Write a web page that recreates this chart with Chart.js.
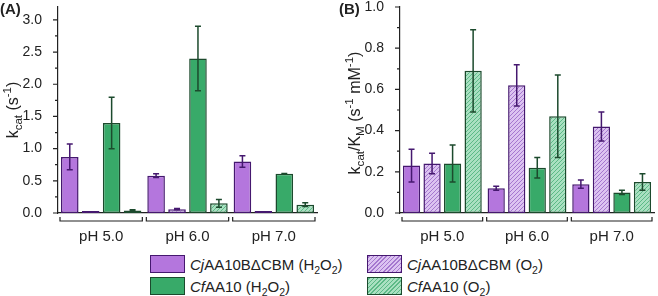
<!DOCTYPE html>
<html>
<head>
<meta charset="utf-8">
<script src="https://cdn.jsdelivr.net/npm/chart.js@4.4.1/dist/chart.umd.min.js"></script>
<style>
  body { margin: 0; width: 658px; height: 296px; background: #fff; overflow: hidden; position: relative;
         font-family: "Liberation Sans", Arial, sans-serif; color: #222; }
  .panel { position: absolute; top: 0; height: 250px; }
  #wrapA { left: 0; width: 329px; }
  #wrapB { left: 330px; width: 328px; }
  .tag { position: absolute; top: 0; font-weight: bold; font-size: 15px; }
  .lg { position: absolute; font-size: 15px; display: flex; align-items: center; white-space: nowrap; }
  .sw { width: 35px; height: 18px; border: 1.5px solid; box-sizing: border-box; margin-right: 5px; }
  sub, sup { font-size: 70%; line-height: 0; }
</style>
</head>
<body>
<div class="panel" id="wrapA"><canvas id="chartA" width="329" height="250"></canvas></div>
<div class="panel" id="wrapB"><canvas id="chartB" width="328" height="250"></canvas></div>
<div class="tag" style="left:0">(A)</div>
<div class="tag" style="left:339px">(B)</div>
<div id="legend"></div>
<script>
// categories
const phLabels = ['pH 5.0', 'pH 6.0', 'pH 7.0'];
const seriesNames = [
  '<i>Cj</i>AA10B&Delta;CBM (H<sub>2</sub>O<sub>2</sub>)',
  '<i>Cj</i>AA10B&Delta;CBM (O<sub>2</sub>)',
  '<i>Cf</i>AA10 (H<sub>2</sub>O<sub>2</sub>)',
  '<i>Cf</i>AA10 (O<sub>2</sub>)'
];

// panel A: kcat (s-1)
const kcatCjH2O2 = [0.87, 0.58, 0.80];
const kcatCjO2   = [0.03, 0.06, 0.03];
const kcatCfH2O2 = [1.40, 2.40, 0.61];
const kcatCfO2   = [0.04, 0.15, 0.13];
const kcatErrCjH2O2 = [0.20, 0.03, 0.09];
const kcatErrCjO2   = [0, 0.008, 0];
const kcatErrCfH2O2 = [0.40, 0.50, 0.004];
const kcatErrCfO2   = [0.01, 0.06, 0.03];
const kcatTicks = [0, 0.5, 1.0, 1.5, 2.0, 2.5, 3.0];
const kcatMinor = [0.25, 0.75, 1.25, 1.75, 2.25, 2.75];

// panel B: kcat/KM (s-1 mM-1)
const effCjH2O2 = [0.23, 0.12, 0.14];
const effCjO2   = [0.24, 0.62, 0.42];
const effCfH2O2 = [0.24, 0.22, 0.10];
const effCfO2   = [0.69, 0.47, 0.15];
const effErrCjH2O2 = [0.08, 0.01, 0.02];
const effErrCjO2   = [0.05, 0.10, 0.07];
const effErrCfH2O2 = [0.09, 0.05, 0.01];
const effErrCfO2   = [0.20, 0.20, 0.04];
const effTicks = [0, 0.2, 0.4, 0.6, 0.8, 1.0];
const effMinor = [0.1, 0.3, 0.5, 0.7, 0.9];

const purple = '#b476dd', purpleLight = '#dcc3f1', purpleHatch = '#a577cf', purpleEdge = '#45186f';
const green = '#38aa69', greenLight = '#a9e0c1', greenHatch = '#5cb987', greenEdge = '#1c4a2d';

function hatch(bg, line) {
  const c = document.createElement('canvas');
  c.width = c.height = 4;
  const x = c.getContext('2d');
  x.fillStyle = bg; x.fillRect(0, 0, 4, 4);
  x.strokeStyle = line; x.lineWidth = 1;
  x.beginPath();
  x.moveTo(0, 4); x.lineTo(4, 0);
  x.moveTo(-1, 1); x.lineTo(1, -1);
  x.moveTo(3, 5); x.lineTo(5, 3);
  x.stroke();
  return x.createPattern(c, 'repeat');
}

Chart.defaults.font.family = '"Liberation Sans", Arial, sans-serif';
Chart.defaults.font.size = 14;
Chart.defaults.color = '#222';

function drawRich(ctx, parts, cx, cy, size) {
  ctx.save();
  ctx.translate(cx, cy);
  ctx.rotate(-Math.PI / 2);
  ctx.textBaseline = 'middle';
  ctx.fillStyle = '#222';
  let total = 0;
  const fontOf = p => (p[1] ? size * 0.72 : size) + 'px "Liberation Sans", Arial';
  parts.forEach(p => { ctx.font = fontOf(p); p.w = ctx.measureText(p[0]).width; total += p.w; });
  let x = -total / 2;
  parts.forEach(p => {
    ctx.font = fontOf(p);
    const dy = p[1] === 'sub' ? size * 0.3 : p[1] === 'sup' ? -size * 0.36 : 0;
    ctx.fillText(p[0], x, dy);
    x += p.w;
  });
  ctx.restore();
}

function makePanel(id, values, errors, ticks, minor, max, yWidth, rightPad, title, titleX, titleY) {
  const fills = [purple, hatch(purpleLight, purpleHatch), green, hatch(greenLight, greenHatch)];
  const edges = [purpleEdge, purpleEdge, greenEdge, greenEdge];

  const extras = {
    id: 'extras',
    afterDatasetsDraw(chart) {
      const ctx = chart.ctx, y = chart.scales.y, xs = chart.scales.x, area = chart.chartArea;
      // error bars
      chart.data.datasets.forEach((ds, i) => {
        chart.getDatasetMeta(i).data.forEach((bar, j) => {
          const e = errors[i][j];
          if (!e) return;
          const top = y.getPixelForValue(values[i][j] + e);
          const bot = y.getPixelForValue(values[i][j] - e);
          ctx.save();
          ctx.strokeStyle = edges[i];
          ctx.lineWidth = 1.5;
          ctx.beginPath();
          ctx.moveTo(bar.x, top); ctx.lineTo(bar.x, bot);
          ctx.moveTo(bar.x - 3, top); ctx.lineTo(bar.x + 3, top);
          ctx.moveTo(bar.x - 3, bot); ctx.lineTo(bar.x + 3, bot);
          ctx.stroke();
          ctx.restore();
        });
      });
      // y ticks
      ctx.save();
      ctx.strokeStyle = '#222';
      ctx.lineWidth = 1.2;
      ctx.beginPath();
      ticks.forEach(v => { const p = y.getPixelForValue(v); ctx.moveTo(area.left - 5, p); ctx.lineTo(area.left, p); });
      minor.forEach(v => { const p = y.getPixelForValue(v); ctx.moveTo(area.left - 3, p); ctx.lineTo(area.left, p); });
      // group brackets
      const half = (xs.getPixelForValue(1) - xs.getPixelForValue(0)) / 2;
      phLabels.forEach((l, i) => {
        const c = xs.getPixelForValue(i);
        const l0 = c - half + 2, r0 = c + half - 2, b = area.bottom + 8;
        ctx.moveTo(l0, area.bottom + 4); ctx.lineTo(l0, b); ctx.lineTo(r0, b); ctx.lineTo(r0, area.bottom + 4);
      });
      ctx.stroke();
      ctx.restore();
      drawRich(ctx, title, titleX, titleY, 16);
    }
  };

  return new Chart(document.getElementById(id), {
    type: 'bar',
    data: {
      labels: phLabels,
      datasets: values.map((v, i) => ({
        data: v,
        backgroundColor: fills[i],
        borderColor: edges[i],
        borderWidth: 1.5,
        borderSkipped: false,
        categoryPercentage: 0.97,
        barPercentage: 0.84
      }))
    },
    options: {
      responsive: false,
      animation: false,
      events: [],
      layout: { padding: { top: 7, right: rightPad, left: 0, bottom: 0 } },
      plugins: { legend: { display: false }, tooltip: { enabled: false } },
      scales: {
        x: {
          grid: { display: false },
          border: { color: '#222', width: 1.2 },
          ticks: { padding: 7, font: { size: 15 } },
          afterFit(s) { s.height = 37; s.paddingLeft = 0; s.paddingRight = 0; }
        },
        y: {
          min: 0, max: max,
          grid: { display: false },
          border: { color: '#222', width: 1.2 },
          ticks: { padding: 8, font: { size: 14 }, callback: v => v.toFixed(1) },
          afterBuildTicks(s) { s.ticks = ticks.map(v => ({ value: v })); },
          afterFit(s) { s.width = yWidth; s.paddingTop = 0; s.paddingBottom = 0; }
        }
      }
    },
    plugins: [extras]
  });
}

makePanel('chartA',
  [kcatCjH2O2, kcatCjO2, kcatCfH2O2, kcatCfO2],
  [kcatErrCjH2O2, kcatErrCjO2, kcatErrCfH2O2, kcatErrCfO2],
  kcatTicks, kcatMinor, 3.2, 58, 12,
  [['k'], ['cat', 'sub'], [' (s'], ['-1', 'sup'], [')']], 14, 110);

makePanel('chartB',
  [effCjH2O2, effCjO2, effCfH2O2, effCfO2],
  [effErrCjH2O2, effErrCjO2, effErrCfH2O2, effErrCfO2],
  effTicks, effMinor, 1.0, 70, 4,
  [['k'], ['cat', 'sub'], ['/K'], ['M', 'sub'], [' (s'], ['-1', 'sup'], [' mM'], ['-1', 'sup'], [')']], 26, 113);

// legend
const swatchCss = [
  `background:${purple};border-color:${purpleEdge}`,
  `background:repeating-linear-gradient(-45deg,${purpleHatch} 0 1px,${purpleLight} 1px 3px);border-color:${purpleEdge}`,
  `background:${green};border-color:${greenEdge}`,
  `background:repeating-linear-gradient(-45deg,${greenHatch} 0 1px,${greenLight} 1px 3px);border-color:${greenEdge}`
];
const legendPos = [[150, 255], [367, 255], [150, 277], [367, 277]];
const legend = document.getElementById('legend');
seriesNames.forEach((name, i) => {
  const d = document.createElement('div');
  d.className = 'lg';
  d.style.left = legendPos[i][0] + 'px';
  d.style.top = legendPos[i][1] + 'px';
  d.innerHTML = `<span class="sw" style="${swatchCss[i]}"></span><span>${name}</span>`;
  legend.appendChild(d);
});
</script>
</body>
</html>
